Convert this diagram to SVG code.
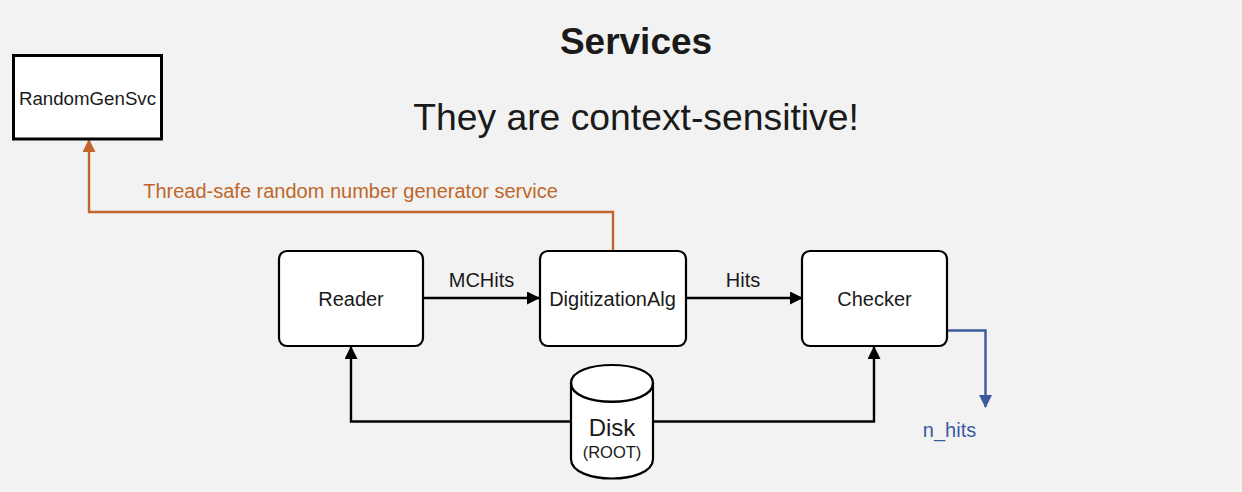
<svg xmlns="http://www.w3.org/2000/svg" width="1242" height="492" viewBox="0 0 1242 492">
<style>
text{font-family:"Liberation Sans",Arial,sans-serif;fill:#1a1a1a;text-anchor:middle}
.n{fill:#fff;stroke:#000;stroke-width:2.2}
.c{fill:none;stroke:#000;stroke-width:2.4}
.l{font-size:20px}
</style>
<defs>
<marker id="a" markerUnits="userSpaceOnUse" markerWidth="14" markerHeight="14" refX="12" refY="6.5" orient="auto"><path d="M0 0L13 6.5L0 13Z" fill="#000"/></marker>
<marker id="o" markerUnits="userSpaceOnUse" markerWidth="14" markerHeight="14" refX="12" refY="6.5" orient="auto"><path d="M0 0L13 6.5L0 13Z" fill="#c0662a"/></marker>
<marker id="b" markerUnits="userSpaceOnUse" markerWidth="14" markerHeight="14" refX="12" refY="6.5" orient="auto"><path d="M0 0L13 6.5L0 13Z" fill="#3c5a9c"/></marker>
</defs>
<rect width="1242" height="492" fill="#f2f2f2"/>
<text x="636" y="53.500" font-size="37" font-weight="700">Services</text>
<text x="636" y="130" font-size="37.300">They are context-sensitive!</text>
<g id="connectors">
<path class="c" d="M423 298H539" marker-end="url(#a)"/>
<path class="c" d="M686 298H802" marker-end="url(#a)"/>
<path class="c" d="M571 421.500H351V347" marker-end="url(#a)"/>
<path class="c" d="M653 421.500H874V347" marker-end="url(#a)"/>
<path d="M613 251V212H89V140" fill="none" stroke="#c0662a" stroke-width="2.4" marker-end="url(#o)"/>
<path d="M947 330.500H985.500V407" fill="none" stroke="#3c5a9c" stroke-width="2.4" marker-end="url(#b)"/>
</g>
<text class="l" x="481.500" y="287">MCHits</text>
<text class="l" x="743" y="287">Hits</text>
<text class="l" x="350.500" y="197.500" style="fill:#c0662a">Thread-safe random number generator service</text>
<text class="l" x="949.500" y="437" style="fill:#3c5a9c">n_hits</text>
<g id="RandomGenSvc"><rect x="13.500" y="55.500" width="148" height="83.500" fill="#fff" stroke="#000" stroke-width="3"/><text x="87.500" y="105" font-size="18.700">RandomGenSvc</text></g>
<g id="Reader"><rect class="n" x="279" y="251" width="144" height="95" rx="8"/><text class="l" x="351" y="305.500">Reader</text></g>
<g id="DigitizationAlg"><rect class="n" x="540" y="251" width="146" height="95" rx="8"/><text class="l" x="612.500" y="305.500">DigitizationAlg</text></g>
<g id="Checker"><rect class="n" x="802" y="251" width="145" height="95" rx="8"/><text class="l" x="874.500" y="305.500">Checker</text></g>
<g id="Disk"><path class="n" stroke-width="2.6" d="M571 383C571 359 653 359 653 383V459C653 485 571 485 571 459Z"/><path class="c" d="M571 383C571 408 653 408 653 383"/><text x="612" y="436" font-size="24">Disk</text><text x="612" y="458" font-size="16.500">(ROOT)</text></g>
</svg>
